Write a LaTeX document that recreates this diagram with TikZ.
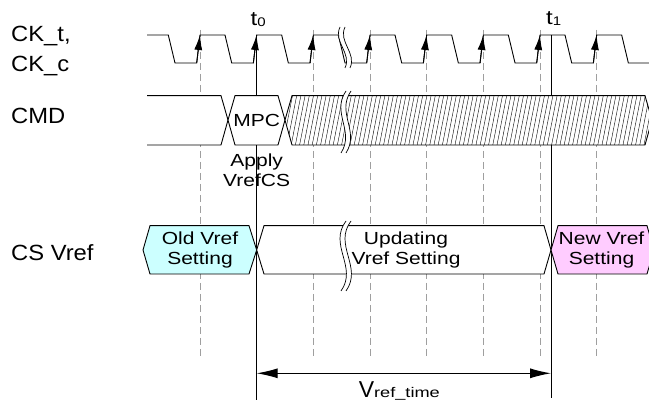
\documentclass[tikz,border=0pt]{standalone}
\usepackage{fontspec}
\setmainfont{Liberation Sans}
\newfontfamily\lblfont[FakeStretch=1.08]{Liberation Sans}
\newfontfamily\boxfont[FakeStretch=1.2]{Liberation Sans}
\newfontfamily\subfont[FakeStretch=1.3]{Liberation Sans}
\usetikzlibrary{arrows.meta}
\definecolor{oldc}{HTML}{CCFFFF}
\definecolor{newc}{HTML}{FFCCFF}
\begin{document}
\begin{tikzpicture}[x=1pt,y=-1pt,
  sig/.style={draw=black, line width=0.9pt, line join=miter},
  gridln/.style={draw=gray!75, line width=0.7pt, dash pattern=on 7pt off 4pt},
  tline/.style={draw=black, line width=0.9pt},
  hatchln/.style={draw=black, line width=0.4pt},
  brk/.style={draw=black, line width=0.7pt},
  lbl/.style={font=\lblfont\fontsize{22}{26}\selectfont, inner sep=0pt, anchor=base west},
  boxtxt/.style={font=\boxfont\fontsize{17.5}{20}\selectfont, align=center, inner sep=0pt},
  clkarrow/.style={draw=black, line width=0.9pt, -{Latex[length=15pt,width=8pt]}},
  dimarrow/.style={draw=black, line width=1pt, {Latex[length=21pt,width=10pt]}-{Latex[length=21pt,width=10pt]}}
]
\useasboundingbox (0,0) rectangle (649,406);

% dashed grid lines at rising edges
\foreach \k in {0,2,3,4,5,6,7}
  \draw[gridln] ({200+56.667*\k},30) -- ({200+56.667*\k},357);

% t0 / t1 marker lines
\coordinate (t0top) at (256.67,35);
\coordinate (t0bot) at (256.67,400);
\coordinate (t1top) at (551,35);
\coordinate (t1bot) at (551,398);
\draw[tline] (t0top) -- (t0bot);
\draw[tline] (t1top) -- (t1bot);

% clock waveform
\draw[sig] (147,35) -- (168.3,35) -- (175,63)
  \foreach \k in {0,...,7}{ -- ({196.7+56.667*\k},63) -- ({200+56.667*\k},35)
     -- ({225+56.667*\k},35) -- ({231.7+56.667*\k},63)} -- (655,63);
\foreach \k in {0,...,7}
  \draw[clkarrow] ({196.7+56.667*\k},63) -- ({200+56.667*\k},35);

% clock break
\fill[white] (340,27) .. controls (333,42) and (352,53) .. (345,68) -- (350,68)
  .. controls (357,53) and (338,42) .. (345,27) -- cycle;
\draw[brk] (340,27) .. controls (333,42) and (352,53) .. (345,68);
\draw[brk] (345,27) .. controls (338,42) and (357,53) .. (350,68);

% CMD waveform
\fill[white] (147,95.7) -- (221,95.7) -- (228,120) -- (221,145) -- (147,145) -- cycle;
\draw[sig] (147,95.7) -- (221,95.7) -- (228,120) -- (221,145) -- (147,145);
\draw[sig, fill=white] (228,120) -- (235,95.7) -- (278,95.7) -- (285,120) -- (278,145) -- (235,145) -- cycle;
\fill[white] (285,120) -- (292,95.7) -- (645,95.7) -- (652,120) -- (645,145) -- (292,145) -- cycle;
\begin{scope}
  \clip (285,120) -- (292,95.7) -- (645,95.7) -- (652,120) -- (645,145) -- (292,145) -- cycle;
  \foreach \i in {0,...,95}
    \draw[hatchln] ({270+4.2*\i},146) -- ({280+4.2*\i},95);
\end{scope}
\draw[sig] (285,120) -- (292,95.7) -- (645,95.7) -- (652,120) -- (645,145) -- (292,145) -- cycle;
\node[boxtxt] (mpc) at (256.7,120.5) {MPC};

% CMD break
\fill[white] (346,91) .. controls (331,113) and (355,131) .. (341,153) -- (346,153)
  .. controls (360,131) and (336,113) .. (351,91) -- cycle;
\draw[brk] (346,91) .. controls (331,113) and (355,131) .. (341,153);
\draw[brk] (351,91) .. controls (336,113) and (360,131) .. (346,153);

\node[boxtxt] (apply) at (256.7,170) {Apply\\VrefCS};

% CS Vref waveform
\draw[sig, fill=oldc] (143,250) -- (150,225.7) -- (249,225.7) -- (256.67,250) -- (249,274) -- (150,274) -- cycle;
\draw[sig, fill=white] (256.67,250) -- (264,225.7) -- (544,225.7) -- (551,250) -- (544,274) -- (264,274) -- cycle;
\draw[sig, fill=newc] (551,250) -- (558,225.7) -- (647,225.7) -- (654,250) -- (647,274) -- (558,274) -- cycle;

% CS Vref break
\fill[white] (346,221) .. controls (328,245) and (358,267) .. (341,291) -- (346,291)
  .. controls (363,267) and (333,245) .. (351,221) -- cycle;
\draw[brk] (346,221) .. controls (328,245) and (358,267) .. (341,291);
\draw[brk] (351,221) .. controls (333,245) and (363,267) .. (346,291);

\node[boxtxt] (old) at (200,250) {Old Vref\\Setting};
\node[boxtxt] (upd) at (406,250) {Updating\\Vref Setting};
\node[boxtxt] (new) at (601.5,250) {New Vref\\Setting};

% row labels
\node[lbl] (ckt) at (11,41.7) {CK\_t,};
\node[lbl] (ckc) at (11,71.7) {CK\_c};
\node[lbl] (cmd) at (11,124) {CMD};
\node[lbl] (csv) at (11,260.7) {CS Vref};

% time labels
\node[anchor=base west, inner sep=0pt] (t0lbl) at (250.5,26)
  {\boxfont\fontsize{20}{20}\selectfont t\raisebox{-0.7pt}{\fontsize{12.5}{12.5}\selectfont 0}};
\node[anchor=base west, inner sep=0pt] (t1lbl) at (546,25)
  {\boxfont\fontsize{20}{20}\selectfont t\raisebox{-0.7pt}{\fontsize{12.5}{12.5}\selectfont 1}};

% Vref_time dimension
\coordinate (a0) at (256.67,373.3);
\coordinate (a1) at (551,373.3);
\draw[dimarrow] (a0) -- (a1);
\node[anchor=base, inner sep=0pt] (vref) at (399.3,398)
  {\fontsize{23}{23}\selectfont V{\subfont\fontsize{14}{14}\selectfont ref\_time}};
\end{tikzpicture}
\end{document}
